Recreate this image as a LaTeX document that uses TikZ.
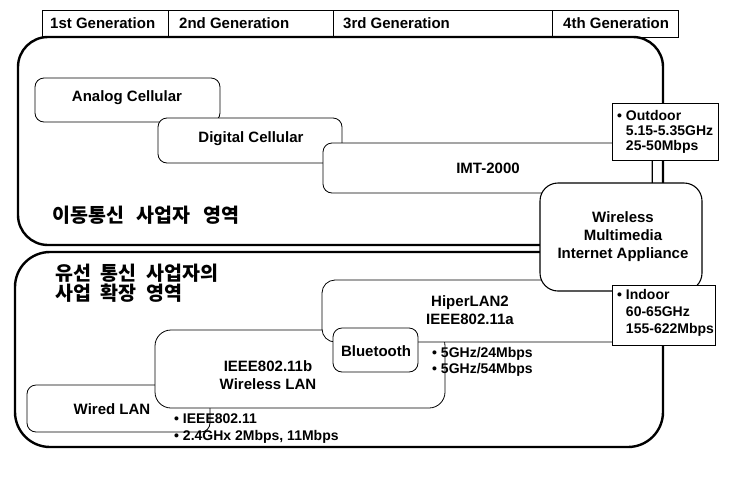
\documentclass[tikz,border=0pt]{standalone}
\usepackage{fontspec}
\setmainfont{Liberation Sans}
\newfontfamily\kr{Noto Sans CJK KR}
\begin{document}
\begin{tikzpicture}[x=1pt,y=-1pt]
\tikzset{
  big/.style={draw, line width=2.4pt, rounded corners=30pt},
  rbox/.style={draw, fill=white, line width=0.8pt, rounded corners=9pt, inner sep=0pt},
  sqbox/.style={draw, fill=white, line width=1pt, inner sep=0pt},
  lbl/.style={font=\fontsize{15}{18}\selectfont\bfseries, inner sep=0pt, align=center},
  lbll/.style={font=\fontsize{14}{16}\selectfont\bfseries, inner sep=0pt, align=left, anchor=west},
  krl/.style={font=\kr\fontsize{19.5}{20}\selectfont\bfseries, inner sep=0pt, align=left, anchor=west},
}
\useasboundingbox (0,0) rectangle (755,485);
% generation bar
\node[sqbox, line width=0.9pt, minimum width=636pt, minimum height=27pt] (bar) at (360,23.5) {};
\draw[line width=0.9pt] (168,10) -- (168,37) (333,10) -- (333,37) (552,10) -- (552,37);
\node[lbl, anchor=west] (g1) at (50,23.5) {1st Generation};
\node[lbl, anchor=west] (g2) at (179,23.5) {2nd Generation};
\node[lbl, anchor=west] (g3) at (343,23.5) {3rd Generation};
\node[lbl, anchor=west] (g4) at (563,23.5) {4th Generation};
% big areas
\draw[big] (18,37) rectangle (663,245);
\draw[big, rounded corners=35pt] (15,252) rectangle (663,447);
% mobile
\node[rbox, minimum width=185pt, minimum height=44pt] (analog) at (127.5,100) {};
\node[lbl] (analogT) at (127,98) {Analog Cellular};
\node[rbox, minimum width=184pt, minimum height=45pt] (digital) at (250,140.5) {};
\node[lbl] (digitalT) at (251,139) {Digital Cellular};
\node[rbox, minimum width=329pt, minimum height=50pt] (imt) at (487.5,168) {};
\node[lbl] (imtT) at (488,168) {IMT-2000};
\node[krl] (kr1) at (52,215) {이동통신\kern0.65em 사업자\kern0.65em 영역};
% wired
\node[krl] (kr2) at (55,283) {유선\kern0.5em 통신\kern0.5em 사업자의\\사업\kern0.5em 확장\kern0.5em 영역};
\node[rbox, minimum width=183pt, minimum height=47pt] (wired) at (118.5,408.5) {};
\node[lbl] (wiredT) at (112,409) {Wired LAN};
\node[rbox, rounded corners=16pt, minimum width=290pt, minimum height=78pt] (b11) at (300,369) {};
\node[lbl] (b11T) at (268,375) {IEEE802.11b\\Wireless LAN};
\node[rbox, rounded corners=13pt, minimum width=358pt, minimum height=62pt] (hiper) at (501,311) {};
\node[lbl] (hiperT) at (470,310) {HiperLAN2\\IEEE802.11a};
\node[rbox, minimum width=85pt, minimum height=44pt] (bt) at (375.5,350) {};
\node[lbl] (btT) at (376,351) {Bluetooth};
% 4th generation
\draw[line width=0.9pt] (652,160) -- (652,183);
\node[rbox, line width=1.1pt, rounded corners=18pt, minimum width=162pt, minimum height=108pt] (wmia) at (621,237) {};
\node[lbl] (wmiaT) at (623,237) {Wireless\\Multimedia\\Internet Appliance};
\node[sqbox, minimum width=106pt, minimum height=57pt] (outd) at (665,131.5) {};
\node[lbll, font=\fontsize{14}{15}\selectfont\bfseries] (outdT) at (617,132) {\textbullet\ Outdoor\\\phantom{\textbullet\ }5.15-5.35GHz\\\phantom{\textbullet\ }25-50Mbps};
\node[sqbox, minimum width=103pt, minimum height=60pt] (ind) at (663.5,315) {};
\node[lbll, font=\fontsize{14}{17}\selectfont\bfseries] (indT) at (617,313) {\textbullet\ Indoor\\\phantom{\textbullet\ }60-65GHz\\\phantom{\textbullet\ }155-622Mbps};
% notes
\node[lbll, font=\fontsize{14}{17}\selectfont\bfseries] (n11) at (174,428.5) {\textbullet\ IEEE802.11\\\textbullet\ 2.4GHx 2Mbps, 11Mbps};
\node[lbll, font=\fontsize{14}{16}\selectfont\bfseries] (n5) at (432,362) {\textbullet\ 5GHz/24Mbps\\\textbullet\ 5GHz/54Mbps};
\end{tikzpicture}
\end{document}
